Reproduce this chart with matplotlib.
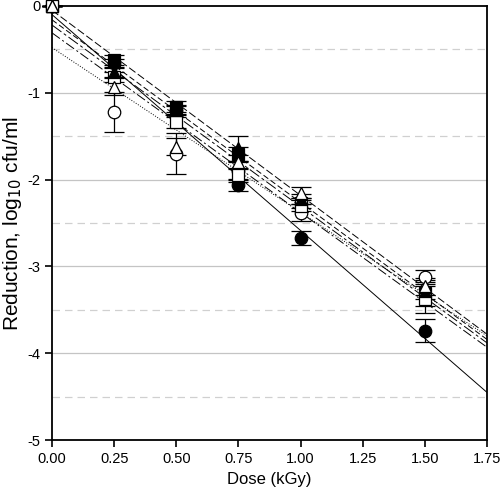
import numpy as np
import matplotlib
matplotlib.use("Agg")
import matplotlib.pyplot as plt

plt.rcParams['font.family'] = ['Liberation Sans', 'DejaVu Sans']

# Dose levels (kGy)
dose = [0.0, 0.25, 0.50, 0.75, 1.00, 1.50]

# Mean reduction (log10 cfu/ml) per series
filled_circle = [0.0, -0.66, -1.20, -2.06, -2.67, -3.74]
open_circle = [0.0, -1.22, -1.70, -1.90, -2.38, -3.12]
filled_square = [0.0, -0.62, -1.16, -1.70, -2.27, -3.31]
open_square = [0.0, -0.82, -1.34, -1.95, -2.30, -3.38]
filled_triangle = [0.0, -0.76, -1.20, -1.64, -2.22, -3.28]
open_triangle = [0.0, -0.93, -1.62, -1.80, -2.15, -3.23]

# Standard errors
err_filled_circle = [0.0, 0.05, 0.05, 0.07, 0.08, 0.13]
err_open_circle = [0.0, 0.23, 0.24, 0.10, 0.10, 0.08]
err_filled_square = [0.0, 0.06, 0.06, 0.08, 0.06, 0.15]
err_open_square = [0.0, 0.06, 0.06, 0.08, 0.06, 0.16]
err_filled_triangle = [0.0, 0.06, 0.06, 0.14, 0.06, 0.10]
err_open_triangle = [0.0, 0.10, 0.10, 0.08, 0.06, 0.10]

# Regression lines: value at dose 0 and at dose 1.75
line_start = [-0.10, -0.48, -0.05, -0.31, -0.16, -0.22]
line_end = [-4.45, -3.80, -3.78, -3.93, -3.84, -3.88]
line_styles = ['-', ':', (0, (8, 3)), (0, (10, 3, 2, 3)), (0, (6, 3)), (0, (12, 3, 3, 3))]

series = [
    (filled_circle, err_filled_circle, 'o', 'black'),
    (open_circle, err_open_circle, 'o', 'white'),
    (filled_square, err_filled_square, 's', 'black'),
    (open_square, err_open_square, 's', 'white'),
    (filled_triangle, err_filled_triangle, '^', 'black'),
    (open_triangle, err_open_triangle, '^', 'white'),
]

fig = plt.figure(figsize=(5.0, 4.94), dpi=100)
ax = fig.add_axes([0.104, 0.109, 0.870, 0.879])

# grid lines
for v in [-1, -2, -3, -4]:
    ax.axhline(v, color='#c4c4c4', lw=0.9, zorder=0)
for v in [-0.5, -1.5, -2.5, -3.5, -4.5]:
    ax.axhline(v, color='#d0d0d0', lw=0.9, ls=(0, (6, 4)), zorder=0)

x_line = [0.0, 1.75]
for s, e, ls in zip(line_start, line_end, line_styles):
    ax.plot(x_line, [s, e], color='black', lw=0.7, ls=ls, zorder=2)

for vals, errs, m, fc in series:
    ax.errorbar(dose, vals, yerr=errs, fmt=m, mfc=fc, mec='black', ms=9,
                ecolor='black', elinewidth=0.9, capsize=7, capthick=0.9,
                mew=0.9, zorder=3, clip_on=False)

ax.set_xlim(0, 1.75)
ax.set_ylim(-5, 0)
ax.set_xticks([0, 0.25, 0.5, 0.75, 1.0, 1.25, 1.5, 1.75])
ax.set_xticklabels(['0.00', '0.25', '0.50', '0.75', '1.00', '1.25', '1.50', '1.75'])
ax.set_yticks([0, -1, -2, -3, -4, -5])
ax.set_yticklabels(['0', '-1', '-2', '-3', '-4', '-5'])
ax.tick_params(direction='out', length=5, width=1.2, labelsize=10.5)
for sp in ax.spines.values():
    sp.set_linewidth(1.3)

ax.set_xlabel('Dose (kGy)', fontsize=12)
ax.set_ylabel('Reduction, log$_{10}$ cfu/ml', fontsize=15, labelpad=2)

fig.savefig('out.png', dpi=100)
